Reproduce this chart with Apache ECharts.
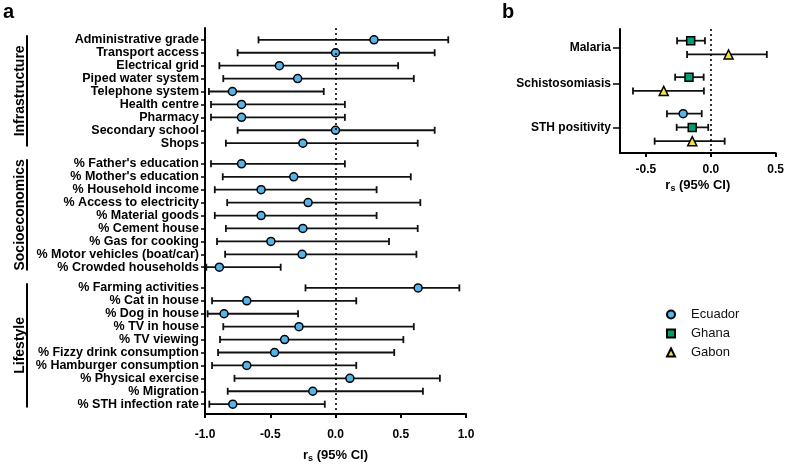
<!DOCTYPE html>
<html>
<head>
<meta charset="utf-8">
<script src="https://cdn.jsdelivr.net/npm/echarts@6/dist/echarts.min.js"></script>
<style>
html,body{margin:0;padding:0;background:#fff;}
#c{width:787px;height:468px;}
</style>
</head>
<body>
<div id="c"></div>
<script>
// ---------- Panel a data ----------
const groupNames = ['Infrastructure', 'Socioeconomics', 'Lifestyle'];
const catsA = [
  'Administrative grade', 'Transport access', 'Electrical grid', 'Piped water system',
  'Telephone system', 'Health centre', 'Pharmacy', 'Secondary school', 'Shops',
  "% Father's education", "% Mother's education", '% Household income',
  '% Access to electricity', '% Material goods', '% Cement house', '% Gas for cooking',
  '% Motor vehicles (boat/car)', '% Crowded households',
  '% Farming activities', '% Cat in house', '% Dog in house', '% TV in house',
  '% TV viewing', '% Fizzy drink consumption', '% Hamburger consumption',
  '% Physical exercise', '% Migration', '% STH infection rate'
];
const groupA = [0,0,0,0,0,0,0,0,0, 1,1,1,1,1,1,1,1,1, 2,2,2,2,2,2,2,2,2,2];
const rhoA = [0.295, 0.0, -0.43, -0.29, -0.79, -0.72, -0.72, 0.0, -0.25,
  -0.72, -0.32, -0.57, -0.21, -0.57, -0.25, -0.495, -0.256, -0.89,
  0.633, -0.68, -0.854, -0.28, -0.39, -0.467, -0.68, 0.11, -0.174, -0.787];
const loA = [-0.59, -0.75, -0.89, -0.86, -0.97, -0.954, -0.954, -0.75, -0.84,
  -0.954, -0.864, -0.925, -0.83, -0.925, -0.84, -0.908, -0.846, -0.99,
  -0.23, -0.946, -0.98, -0.86, -0.885, -0.90, -0.946, -0.774, -0.826, -0.967];
const hiA = [0.864, 0.76, 0.48, 0.60, -0.09, 0.072, 0.072, 0.76, 0.63,
  0.072, 0.577, 0.315, 0.65, 0.315, 0.63, 0.41, 0.62, -0.42,
  0.949, 0.159, -0.287, 0.60, 0.52, 0.45, 0.159, 0.80, 0.67, -0.082];
const ticksA = [-1.0, -0.5, 0.0, 0.5, 1.0];

// ---------- Panel b data ----------
const diseases = ['Malaria', 'Schistosomiasis', 'STH positivity'];
const countries = ['Ecuador', 'Ghana', 'Gabon'];
const rhoB = {
  Ecuador: [null, null, -0.213],
  Ghana: [-0.155, -0.168, -0.143],
  Gabon: [0.137, -0.363, -0.143]
};
const loB = {
  Ecuador: [null, null, -0.338],
  Ghana: [-0.26, -0.275, -0.263],
  Gabon: [-0.183, -0.60, -0.433]
};
const hiB = {
  Ecuador: [null, null, -0.07],
  Ghana: [-0.045, -0.055, -0.02],
  Gabon: [0.432, -0.053, 0.107]
};
const ticksB = [-0.5, 0.0, 0.5];

// ---------- styling ----------
const FONT = '"Liberation Sans", Arial, Helvetica, sans-serif';
const colors = { Ecuador: '#56B4E9', Ghana: '#009E73', Gabon: '#F0E442' };
const symbols = { Ecuador: 'circle', Ghana: 'rect', Gabon: 'triangle' };
const symSizesB = { Ecuador: 8, Ghana: 8, Gabon: 9 };

const GAP_A = 0.6;
const posA = catsA.map((c, i) => i + groupA[i] * GAP_A);

const GAP_B = 0.65;
const posB = { Ecuador: [null, null, null], Ghana: [null, null, null], Gabon: [null, null, null] };
const centerB = [];
let row = 0;
diseases.forEach((d, di) => {
  const ps = [];
  countries.forEach(c => {
    if (rhoB[c][di] !== null) {
      posB[c][di] = row + di * GAP_B;
      ps.push(posB[c][di]);
      row++;
    }
  });
  centerB.push(ps.reduce((a, b) => a + b, 0) / ps.length);
});

function nearestLabel(v, positions, labels) {
  let best = 0, bd = Infinity;
  positions.forEach((p, i) => { const d = Math.abs(p - v); if (d < bd) { bd = d; best = i; } });
  return labels[best];
}

function errorBar(params, api) {
  const y = api.value(2);
  const p1 = api.coord([api.value(0), y]);
  const p2 = api.coord([api.value(1), y]);
  const h = 3.5;
  const st = { stroke: '#111', lineWidth: 1.8 };
  return {
    type: 'group',
    children: [
      { type: 'line', shape: { x1: p1[0], y1: p1[1], x2: p2[0], y2: p2[1] }, style: st },
      { type: 'line', shape: { x1: p1[0], y1: p1[1] - h, x2: p1[0], y2: p1[1] + h }, style: st },
      { type: 'line', shape: { x1: p2[0], y1: p2[1] - h, x2: p2[0], y2: p2[1] + h }, style: st }
    ]
  };
}

const axisNameRich = {
  r: { fontSize: 13, fontWeight: 'bold', color: '#000', fontFamily: FONT },
  s: { fontSize: 9, fontWeight: 'bold', color: '#000', fontFamily: FONT, padding: [7, 0, 0, 0] }
};

const dottedZero = {
  silent: true,
  symbol: ['none', 'none'],
  label: { show: false },
  lineStyle: { type: [2, 3], color: '#000', width: 1.6 },
  data: [{ xAxis: 0 }]
};

const series = [];
series.push({
  type: 'custom', xAxisIndex: 0, yAxisIndex: 0,
  renderItem: errorBar,
  encode: { x: [0, 1], y: 2 },
  data: catsA.map((c, i) => [loA[i], hiA[i], posA[i]]),
  markLine: dottedZero,
  z: 2
});
series.push({
  name: 'Ecuador_a', type: 'scatter', xAxisIndex: 0, yAxisIndex: 0,
  symbol: 'circle', symbolSize: 8,
  itemStyle: { color: colors.Ecuador, borderColor: '#000', borderWidth: 1.5, opacity: 1 },
  data: catsA.map((c, i) => [rhoA[i], posA[i]]),
  z: 3
});
series.push({
  type: 'custom', xAxisIndex: 1, yAxisIndex: 1,
  renderItem: errorBar,
  encode: { x: [0, 1], y: 2 },
  data: [].concat(...countries.map(c => diseases.map((d, di) => rhoB[c][di] === null ? null : [loB[c][di], hiB[c][di], posB[c][di]]).filter(Boolean))),
  markLine: dottedZero,
  z: 2
});
countries.forEach(c => {
  series.push({
    name: c, type: 'scatter', xAxisIndex: 1, yAxisIndex: 1,
    symbol: symbols[c], symbolSize: symSizesB[c],
    itemStyle: { color: colors[c], borderColor: '#000', borderWidth: 1.5, opacity: 1 },
    data: diseases.map((d, di) => rhoB[c][di] === null ? null : [rhoB[c][di], posB[c][di]]).filter(Boolean),
    z: 3
  });
});

const xAxisCommon = {
  type: 'value',
  splitLine: { show: false },
  axisLine: { show: true, onZero: false, lineStyle: { color: '#000', width: 2 } },
  axisTick: { show: true, length: 4, lineStyle: { color: '#000', width: 2 } },
  axisLabel: { color: '#000', fontWeight: 'bold', fontSize: 12, fontFamily: FONT, margin: 9,
    formatter: v => v.toFixed(1) },
  nameLocation: 'middle',
  name: '{r|r}{s|s}{r| (95% CI)}',
  nameTextStyle: { rich: axisNameRich }
};

const option = {
  animation: false,
  backgroundColor: '#fff',
  textStyle: { fontFamily: FONT },
  grid: [
    { left: 205, right: 321, top: 28, bottom: 48 },
    { left: 620, right: 9, top: 29, bottom: 315 }
  ],
  xAxis: [
    Object.assign({}, xAxisCommon, {
      gridIndex: 0, min: -1, max: 1, interval: 0.5, nameGap: 33,
      axisTick: Object.assign({}, xAxisCommon.axisTick, { customValues: ticksA }),
      axisLabel: Object.assign({}, xAxisCommon.axisLabel, { customValues: ticksA, margin: 15 })
    }),
    Object.assign({}, xAxisCommon, {
      gridIndex: 1, min: -0.7, max: 0.5, nameGap: 24,
      axisTick: Object.assign({}, xAxisCommon.axisTick, { customValues: ticksB }),
      axisLabel: Object.assign({}, xAxisCommon.axisLabel, { customValues: ticksB, margin: 11 })
    })
  ],
  yAxis: [
    {
      type: 'value', gridIndex: 0, inverse: true, min: -0.915, max: 28.96,
      splitLine: { show: false },
      axisLine: { show: true, onZero: false, lineStyle: { color: '#000', width: 2 } },
      axisTick: { show: true, length: 4, customValues: posA, lineStyle: { color: '#000', width: 1.5 } },
      axisLabel: { customValues: posA, color: '#000', fontWeight: 'bold', fontSize: 12.5, fontFamily: FONT, margin: 6,
        formatter: v => nearestLabel(v, posA, catsA) }
    },
    {
      type: 'value', gridIndex: 1, inverse: true, min: -0.85, max: 8.16,
      splitLine: { show: false },
      axisLine: { show: true, onZero: false, lineStyle: { color: '#000', width: 2 } },
      axisTick: { show: true, length: 7, customValues: centerB, lineStyle: { color: '#000', width: 1.5 } },
      axisLabel: { customValues: centerB, color: '#000', fontWeight: 'bold', fontSize: 12, fontFamily: FONT, margin: 9,
        formatter: v => nearestLabel(v, centerB, diseases) }
    }
  ],
  legend: {
    data: countries,
    orient: 'vertical',
    left: 661, top: 303,
    itemWidth: 8, itemHeight: 8, itemGap: 6,
    selectedMode: false,
    textStyle: { fontSize: 13, color: '#111', fontFamily: FONT, padding: [0, 0, 0, 11] }
  },
  series: series
};

const chart = echarts.init(document.getElementById('c'), null, { renderer: 'canvas' });
chart.setOption(option);

const graphics = [
  { type: 'text', left: 3, top: 2, style: { text: 'a', fontSize: 20, fontWeight: 'bold', fill: '#000', fontFamily: FONT } },
  { type: 'text', left: 502, top: 2, style: { text: 'b', fontSize: 20, fontWeight: 'bold', fill: '#000', fontFamily: FONT } }
];
groupNames.forEach((g, gi) => {
  const ps = posA.filter((p, i) => groupA[i] === gi);
  const y1 = chart.convertToPixel({ gridIndex: 0 }, [0, ps[0] - 0.35])[1];
  const y2 = chart.convertToPixel({ gridIndex: 0 }, [0, ps[ps.length - 1] + 0.25])[1];
  graphics.push({ type: 'line', shape: { x1: 27, y1: y1, x2: 27, y2: y2 }, style: { stroke: '#000', lineWidth: 2 } });
  graphics.push({ type: 'text', x: 20, y: (y1 + y2) / 2, rotation: Math.PI / 2,
    style: { text: g, fontSize: 14, fontWeight: 'bold', fill: '#000', fontFamily: FONT, align: 'center', verticalAlign: 'middle' } });
});
chart.setOption({ graphic: graphics });
</script>
</body>
</html>
